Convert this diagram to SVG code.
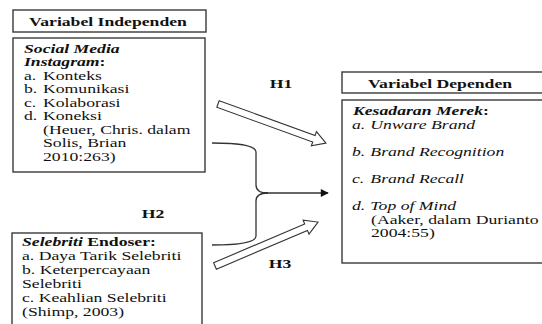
<svg xmlns="http://www.w3.org/2000/svg" width="542" height="324" viewBox="0 0 542 324">
<defs>
<style>
.box{fill:#fff;stroke:#3a3a3a;stroke-width:1.4}
.t{font-family:'Liberation Serif','DejaVu Serif',serif;font-size:13px;fill:#111}
.b{font-weight:bold}
.i{font-style:italic}
.c{text-anchor:middle}
.con{fill:none;stroke:#333;stroke-width:1.3}
.hollow{fill:#fff;stroke:#333;stroke-width:1.1;stroke-linejoin:miter}
</style>
<marker id="ah" viewBox="0 0 10 10" refX="9" refY="5" markerWidth="10" markerHeight="8" markerUnits="userSpaceOnUse" orient="auto">
<path d="M0,0 L10,5 L0,10 z" fill="#111"/>
</marker>
</defs>
<rect width="542" height="324" fill="#fff"/>

<g id="hdr-independen">
<rect class="box" x="13" y="10" width="193" height="22"/>
<text class="t b c" transform="translate(108,25.5) scale(1.36,1)">Variabel Independen</text>
</g>

<g id="social-media">
<rect class="box" x="13" y="38" width="192" height="134"/>
<text class="t b i" transform="translate(24,52.5) scale(1.36,1)">Social Media</text>
<text class="t b" transform="translate(24,66) scale(1.36,1)"><tspan class="i">Instagram</tspan>:</text>
<text class="t" transform="translate(24,79.5) scale(1.36,1)">a.<tspan x="14">Konteks</tspan></text>
<text class="t" transform="translate(24,93) scale(1.36,1)">b.<tspan x="14">Komunikasi</tspan></text>
<text class="t" transform="translate(24,106.5) scale(1.36,1)">c.<tspan x="14">Kolaborasi</tspan></text>
<text class="t" transform="translate(24,120) scale(1.36,1)">d.<tspan x="14">Koneksi</tspan></text>
<text class="t" transform="translate(43,133.5) scale(1.36,1)">(Heuer, Chris. dalam</text>
<text class="t" transform="translate(43,147) scale(1.36,1)">Solis, Brian</text>
<text class="t" transform="translate(43,160.5) scale(1.36,1)">2010:263)</text>
</g>

<g id="selebriti">
<rect class="box" x="12" y="233" width="190" height="100"/>
<text class="t b" transform="translate(22,245.5) scale(1.36,1)"><tspan class="i">Selebriti</tspan> Endoser:</text>
<text class="t" transform="translate(22,259.5) scale(1.36,1)">a. Daya Tarik Selebriti</text>
<text class="t" transform="translate(22,273.5) scale(1.36,1)">b. Keterpercayaan</text>
<text class="t" transform="translate(22,287.5) scale(1.36,1)">Selebriti</text>
<text class="t" transform="translate(22,301.5) scale(1.36,1)">c. Keahlian Selebriti</text>
<text class="t" transform="translate(22,315.5) scale(1.36,1)">(Shimp, 2003)</text>
</g>

<g id="hdr-dependen">
<rect class="box" x="342" y="72" width="220" height="21"/>
<text class="t b c" transform="translate(440,87.5) scale(1.36,1)">Variabel Dependen</text>
</g>

<g id="kesadaran-merek">
<rect class="box" x="342" y="100" width="220" height="163"/>
<text class="t b" transform="translate(353,115) scale(1.36,1)"><tspan class="i">Kesadaran Merek</tspan>:</text>
<text class="t i" transform="translate(352,129) scale(1.36,1)">a.<tspan x="13.5">Unware Brand</tspan></text>
<text class="t i" transform="translate(352,156) scale(1.36,1)">b.<tspan x="13.5">Brand Recognition</tspan></text>
<text class="t i" transform="translate(352,183) scale(1.36,1)">c.<tspan x="13.5">Brand Recall</tspan></text>
<text class="t i" transform="translate(352,210) scale(1.36,1)">d.<tspan x="13.5">Top of Mind</tspan></text>
<text class="t" transform="translate(371,223.5) scale(1.36,1)">(Aaker, dalam Durianto</text>
<text class="t" transform="translate(371,237) scale(1.36,1)">2004:55)</text>
</g>

<g id="connectors">
<path class="con" d="M212,143 Q256,143 256,152 L256,185 Q256,193 268,193"/>
<path class="con" d="M212,245 Q256,245 256,236 L256,201 Q256,193 268,193"/>
<line class="con" x1="262" y1="193" x2="328" y2="193" marker-end="url(#ah)"/>
<polygon class="hollow" transform="translate(218,104) rotate(19.9)" points="0,-3.5 102,-3.5 102,-7.5 114.8,0 102,7.5 102,3.5 0,3.5"/>
<polygon class="hollow" transform="translate(215,266) rotate(-23.1)" points="0,-3.5 99,-3.5 99,-7.5 112,0 99,7.5 99,3.5 0,3.5"/>
<text class="t b c" transform="translate(281,88) scale(1.36,1)">H1</text>
<text class="t b c" transform="translate(153,218) scale(1.36,1)">H2</text>
<text class="t b c" transform="translate(280,268) scale(1.36,1)">H3</text>
</g>
</svg>
